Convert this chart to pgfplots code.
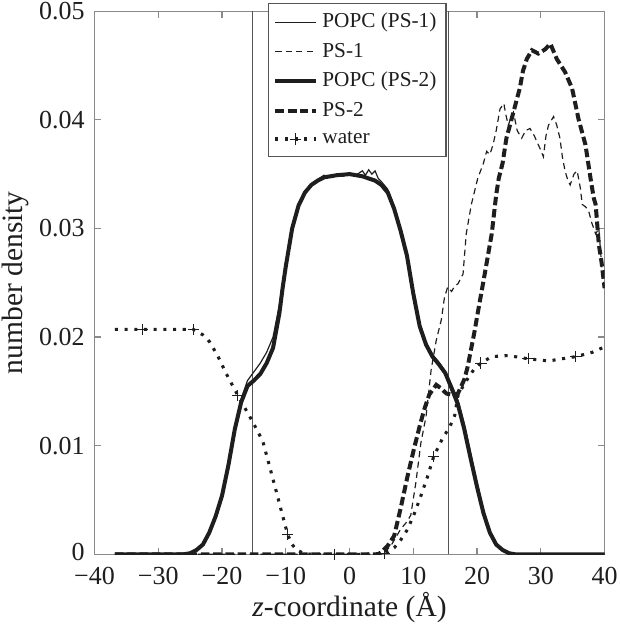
\documentclass[border=0pt]{standalone}
\usepackage{fontspec}
\setmainfont{Liberation Serif}
\usepackage{pgfplots}
\pgfplotsset{compat=1.18}
\definecolor{ink}{HTML}{1E1E1E}
\definecolor{axgray}{HTML}{8A8A8A}
\definecolor{vgray}{HTML}{555555}
\begin{document}
\begin{tikzpicture}
\begin{axis}[
  scale only axis,
  width=216pt, height=230pt,
  xmin=-40, xmax=40, ymin=0, ymax=0.05,
  xtick={-40,-30,-20,-10,0,10,20,30,40},
  xticklabels={−40,−30,−20,−10,0,10,20,30,40},
  ytick={0,0.01,0.02,0.03,0.04,0.05},
  yticklabels={\raisebox{2pt}{0},0.01,0.02,0.03,0.04,0.05},
  scaled y ticks=false,
  tick align=inside,
  major tick length=2.8pt,
  axis line style={axgray, line width=0.5pt},
  tick style={axgray, line width=0.5pt},
  tick label style={font=\fontsize{11}{13}\selectfont, text=ink, inner sep=1pt},
  xticklabel style={yshift=-4.2pt},
  yticklabel style={xshift=-3pt},
  xlabel={\textit{z}-coordinate (Å)},
  ylabel={number density},
  label style={font=\fontsize{12.5}{14}\selectfont, text=ink, inner sep=1pt},
  xlabel style={yshift=-1pt},
  ylabel style={yshift=2pt},
  legend cell align=left,
  legend style={at={(0.340,1.015)}, anchor=north west, draw=vgray, line width=0.6pt, fill=white,
    font=\fontsize{9}{10.5}\selectfont, text=ink, inner xsep=2pt, inner ysep=2pt,
    row sep=0.9pt, cells={anchor=west}},
]
% vertical lines
\addplot[vgray, line width=0.6pt, forget plot] coordinates {(-15.2,0) (-15.2,0.05)};
\addplot[vgray, line width=0.6pt, forget plot] coordinates {(15.5,0) (15.5,0.05)};

% POPC (PS-1)
\addplot[ink, line width=0.5pt] coordinates {
(-36.8,0) (-26,0) (-25,0.0001) (-24,0.0004) (-23,0.0009) (-22,0.0020) (-21,0.0035) (-20,0.0055)
(-19,0.0083) (-18,0.0117) (-17,0.0143) (-16,0.0160) (-15,0.0168) (-14,0.0176) (-13,0.0186)
(-12,0.0200) (-11,0.0230) (-10.5,0.0250) (-10,0.0268) (-9,0.0302) (-8,0.0322) (-7,0.0334) (-6,0.0341)
(-5,0.0345) (-4,0.0349) (-3,0.0347) (-2,0.0350) (-1,0.0348) (0,0.0351) (1,0.0349) (2,0.0353)
(2.5,0.0349) (3,0.0354) (3.5,0.0350) (4,0.0353) (4.5,0.0346) (5,0.0343) (6,0.0336) (7,0.0320)
(8,0.0300) (9,0.0277) (10,0.0243) (11,0.0213) (12,0.0195) (13,0.0184) (14,0.0177) (15,0.0168)
(16,0.0156) (17,0.0142) (18,0.0120) (19,0.0093) (20,0.0066) (21,0.0041) (22,0.0022) (23,0.0010)
(24,0.0004) (25,0.0001) (26,0) (40,0)};
\addlegendentry{POPC (PS-1)}

% PS-1
\addplot[ink, line width=0.5pt, dash pattern=on 2.6pt off 1.8pt] coordinates {
(-36.8,0) (4.5,0) (5.5,0.0002) (6.5,0.0008) (7.3,0.0016) (8,0.0023) (9,0.0030) (9.6,0.0036)
(10.4,0.0066) (11.2,0.0103) (12,0.0127) (12.8,0.0170) (13.6,0.0197) (14.4,0.0216) (14.9,0.0237)
(15.4,0.0246) (16,0.0242) (16.5,0.0247) (17,0.0249) (17.8,0.0258) (18.3,0.0295) (19.1,0.0322)
(19.6,0.0334) (20.1,0.0346) (21,0.0360) (21.5,0.0371) (22,0.0368) (22.5,0.0377) (23,0.0390)
(23.6,0.0410) (24.2,0.0415) (24.5,0.0405) (24.9,0.0395) (25.3,0.0402) (25.7,0.0407) (26.3,0.0390)
(27,0.0383) (27.6,0.0390) (28.3,0.0392) (29,0.0385) (29.6,0.0377) (30,0.0372) (30.4,0.0366)
(30.8,0.0385) (31.2,0.0395) (32,0.0403) (32.5,0.0395) (33,0.0383) (33.4,0.0365) (33.8,0.0353)
(34.2,0.0345) (34.6,0.0340) (35.2,0.0350) (35.7,0.0353) (36.2,0.0337) (36.5,0.0322) (37,0.0320)
(37.5,0.0316) (38,0.0305) (38.6,0.0295) (39.1,0.0300) (39.6,0.0261) (40,0.0243)};
\addlegendentry{PS-1}

% POPC (PS-2)
\addplot[ink, line width=1.7pt] coordinates {
(-36.8,0) (-26,0) (-25,0.0001) (-24,0.0004) (-23,0.0009) (-22,0.0020) (-21,0.0035) (-20,0.0054)
(-19,0.0082) (-18,0.0115) (-17,0.0140) (-16,0.0155) (-15,0.0160) (-14,0.0166) (-13,0.0176)
(-12,0.0190) (-11,0.0222) (-10.5,0.0245) (-10,0.0265) (-9,0.0300) (-8,0.0321) (-7,0.0333) (-6,0.0340)
(-5,0.0344) (-4,0.0347) (-2,0.0349) (0,0.0350) (2,0.0348) (4,0.0344) (5,0.0340) (6,0.0333)
(7,0.0318) (8,0.0298) (9,0.0275) (10,0.0240) (11,0.0210) (12,0.0193) (13,0.0182) (14,0.0175)
(15,0.0167) (16,0.0153) (17,0.0138) (18,0.0115) (19,0.0088) (20,0.0062) (21,0.0038) (22,0.0020)
(23,0.0009) (24,0.0004) (25,0.0001) (26,0) (40,0)};
\addlegendentry{POPC (PS-2)}

% PS-2
\addplot[ink, line width=1.7pt, dash pattern=on 3.6pt off 1.6pt] coordinates {
(-36.8,0) (4.5,0) (5,0.0002) (6,0.0008) (7,0.0017) (8,0.0042) (9.1,0.0072) (10.1,0.0097)
(11,0.0118) (11.7,0.0133) (12.5,0.0147) (13.6,0.0156) (14.3,0.0153) (15.2,0.0148) (16,0.0147)
(17,0.0148) (18,0.0161) (18.5,0.0172) (19.1,0.0190) (19.6,0.0205) (20.1,0.0222) (21.2,0.0258)
(22.3,0.0295) (23,0.0331) (23.4,0.0346) (24,0.0360) (24.6,0.0383) (25.2,0.0396) (25.7,0.0407)
(26.7,0.0429) (27.2,0.0445) (27.8,0.0456) (28.6,0.0464) (29.6,0.0461) (30.2,0.0463) (30.7,0.0465)
(31.5,0.0470) (32,0.0463) (32.5,0.0456) (33.8,0.0444) (34.9,0.0429) (35.9,0.0401) (37,0.0377)
(37.8,0.0346) (38.3,0.0328) (38.6,0.0322) (39.1,0.0285) (39.5,0.0270) (40,0.0245)};
\addlegendentry{PS-2}

% water
\addplot[ink, line width=1.3pt, dash pattern=on 1.3pt off 2.8pt, mark=+,
  mark size=2.4pt, mark options={solid, line width=0.4pt},
  mark indices={2,4,9,15,20,22,30,37,40,42}] coordinates {
(-36.8,0.0207) (-32.5,0.0207) (-28,0.0207) (-24.5,0.0207) (-23,0.0202) (-22,0.0196) (-20.7,0.0183)
(-19.4,0.0167) (-17.5,0.0146) (-15.1,0.0121) (-13.6,0.0104) (-12.5,0.0080) (-11.5,0.0058)
(-10.7,0.0040) (-9.7,0.0018) (-9,0.0009) (-8.3,0.0004) (-7.2,0.0001) (-6,0) (-2.3,0) (2,0)
(5.4,0.0001) (6.2,0.0003) (7,0.0006) (8,0.0013) (9.1,0.0023) (10.2,0.0038) (11.2,0.0054)
(12.2,0.0071) (13.2,0.0090) (14.6,0.0107) (15.7,0.0117) (16.5,0.0128) (17,0.0146) (18,0.0157)
(19.6,0.0171) (20.6,0.0176) (22.3,0.0182) (24.9,0.0183) (28,0.0180) (31.2,0.0178) (35.5,0.0182)
(38.1,0.0186) (40,0.0191)};
\addlegendentry{water}
\end{axis}
\end{tikzpicture}
\end{document}
